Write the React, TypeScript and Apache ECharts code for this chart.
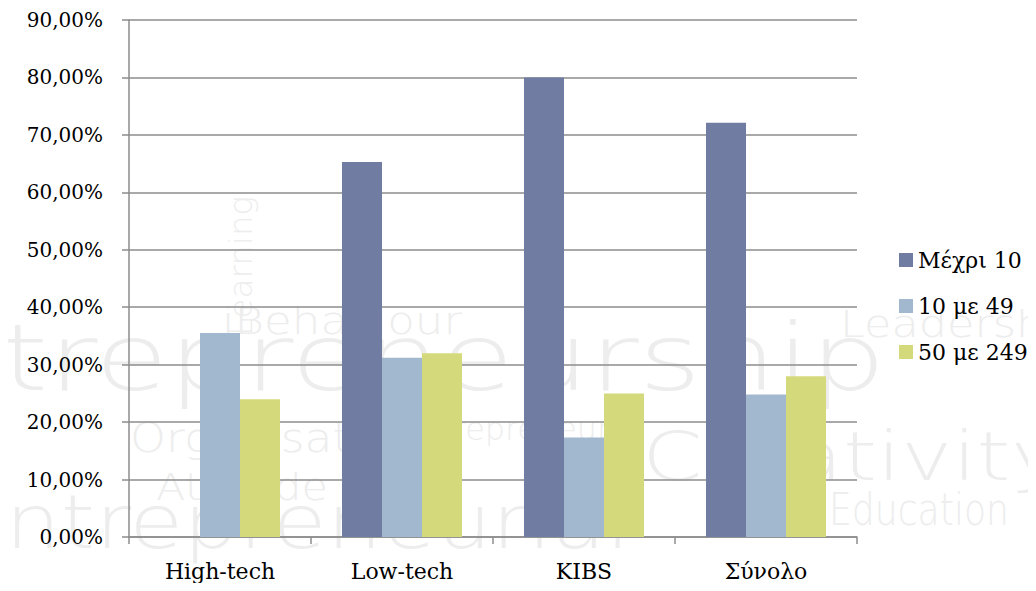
import React, { useEffect, useRef } from "react";
import * as echarts from "echarts";

const categories = ["High-tech", "Low-tech", "KIBS", "Σύνολο"];
const seriesNames = ["Μέχρι 10", "10 με 49", "50 με 249"];
const upTo10 = [0, 65.3, 80.0, 72.1];
const from10to49 = [35.5, 31.2, 17.3, 24.8];
const from50to249 = [24.0, 32.0, 25.0, 28.0];
const colors = ["#717CA2", "#A2B8CF", "#D4DA7B"];

// Background watermark picture (it is an image behind the chart in the reference)
const watermarkWords = [
  { text: "Entrepreneurship", x: -150, y: 390, size: 92, len: 1036 },
  { text: "Entrepreneurial", x: -50, y: 548, size: 74, len: 680 },
  { text: "iBehaviour", x: 222, y: 334, size: 38, len: 240 },
  { text: "Leadership", x: 840, y: 337, size: 38, len: 245 },
  { text: "Creativity", x: 642, y: 480, size: 68, len: 420 },
  { text: "Organisation", x: 130, y: 452, size: 40, len: 290 },
  { text: "Entrepreneur", x: 400, y: 440, size: 32, len: 210 },
  { text: "Attitude", x: 156, y: 500, size: 38, len: 172 },
  { text: "Education", x: 829, y: 525, size: 44, len: 180 },
];

function watermarkSvg(): string {
  const words = watermarkWords
    .map(
      (w) =>
        `<text x="${w.x}" y="${w.y}" font-size="${w.size}" textLength="${w.len}" lengthAdjust="spacingAndGlyphs">${w.text}</text>`
    )
    .join("");
  const learning = `<text x="0" y="0" font-size="32" textLength="140" lengthAdjust="spacingAndGlyphs" transform="translate(252,336) rotate(-90)">Learning</text>`;
  const svg = `<svg xmlns="http://www.w3.org/2000/svg" width="1036" height="591" viewBox="0 0 1036 591"><g font-family="DejaVu Sans" font-weight="200" fill="#EDEDED">${words}${learning}</g></svg>`;
  return "data:image/svg+xml;charset=utf-8," + encodeURIComponent(svg);
}

export default function App() {
  const ref = useRef<HTMLDivElement>(null);
  useEffect(() => {
    if (!ref.current) return;
    const chart = echarts.init(ref.current, null, { renderer: "svg" });
    const font = "DejaVu Serif";
    const option: any = {
      animation: false,
      backgroundColor: "#ffffff",
      textStyle: { fontFamily: font },
      graphic: [
        {
          type: "image",
          x: 0,
          y: 0,
          z: -10,
          silent: true,
          style: { image: watermarkSvg(), width: 1036, height: 591 },
        },
      ],
      grid: { left: 129, right: 179, top: 20, bottom: 54, containLabel: false },
      legend: {
        orient: "vertical",
        left: 894,
        top: 244,
        itemWidth: 14,
        itemHeight: 14,
        itemGap: 24,
        icon: "rect",
        data: seriesNames,
        textStyle: { fontFamily: font, fontSize: 22, color: "#000" },
      },
      xAxis: {
        type: "category",
        data: categories,
        axisLine: { lineStyle: { color: "#8C8C8C", width: 1.5 } },
        axisTick: { show: true, length: 7, lineStyle: { color: "#8C8C8C", width: 1.5 } },
        axisLabel: { fontFamily: font, fontSize: 22, color: "#000", margin: 23, lineHeight: 22 },
      },
      yAxis: {
        type: "value",
        min: 0,
        max: 90,
        interval: 10,
        axisLine: { show: true, lineStyle: { color: "#8C8C8C", width: 1.5 } },
        axisTick: { show: true, length: 7, lineStyle: { color: "#8C8C8C", width: 1.5 } },
        splitLine: { lineStyle: { color: "#8C8C8C", width: 1.5 } },
        axisLabel: {
          fontFamily: font,
          fontSize: 20,
          color: "#000",
          margin: 26,
          formatter: (v: number) => v.toFixed(2).replace(".", ",") + "%",
        },
      },
      series: [
        { name: seriesNames[0], type: "bar", data: upTo10, itemStyle: { color: colors[0] }, barWidth: 40, barGap: "0%" },
        { name: seriesNames[1], type: "bar", data: from10to49, itemStyle: { color: colors[1] }, barWidth: 40, barGap: "0%" },
        { name: seriesNames[2], type: "bar", data: from50to249, itemStyle: { color: colors[2] }, barWidth: 40, barGap: "0%" },
      ],
    };
    chart.setOption(option);
    return () => chart.dispose();
  }, []);
  return <div ref={ref} style={{ width: 1036, height: 591, margin: -8 }} />;
}
